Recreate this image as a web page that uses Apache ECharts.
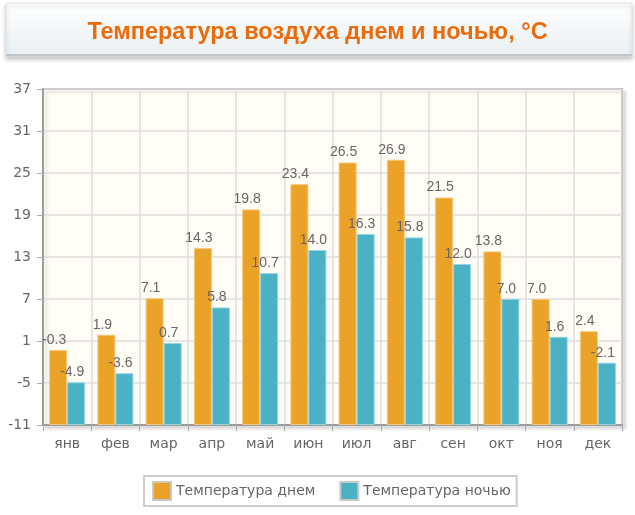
<!DOCTYPE html>
<html>
<head>
<meta charset="utf-8">
<script src="https://cdn.jsdelivr.net/npm/echarts@6/dist/echarts.min.js"></script>
<style>
html,body{margin:0;padding:0;background:#fff;}
#chart{width:635px;height:515px;}
</style>
</head>
<body>
<div id="chart"></div>
<script>
var months = ['янв','фев','мар','апр','май','июн','июл','авг','сен','окт','ноя','дек'];
var dayTemp = [-0.3, 1.9, 7.1, 14.3, 19.8, 23.4, 26.5, 26.9, 21.5, 13.8, 7.0, 2.4];
var nightTemp = [-4.9, -3.6, 0.7, 5.8, 10.7, 14.0, 16.3, 15.8, 12.0, 7.0, 1.6, -2.1];
var seriesNames = ['Температура днем', 'Температура ночью'];
var yMin = -11, yMax = 37, yStep = 6;
var titleText = 'Температура воздуха днем и ночью, °C';

// bars rise from the bottom of the axis (yMin), so plot heights above yMin
function fromBase(arr){ return arr.map(function(v){ return +(v - yMin).toFixed(2); }); }

var chart = echarts.init(document.getElementById('chart'), null, {renderer:'canvas'});
var labelFont = '"Liberation Sans", Arial, sans-serif';
var axisFont = '"DejaVu Sans", Verdana, sans-serif';

function barLabel(src){
  return {
    show: true, position: 'top', distance: 3, offset: [-4, 0],
    color: '#666', fontSize: 14, fontFamily: labelFont,
    formatter: function(p){ return src[p.dataIndex].toFixed(1); }
  };
}

chart.setOption({
  backgroundColor: '#fff',
  animation: false,
  graphic: [
    {type:'rect', z: -1, shape:{x:6, y:3, width:626, height:53},
     style:{fill:{type:'linear', x:0, y:0, x2:0, y2:1, colorStops:[{offset:0,color:'#ffffff'},{offset:1,color:'#e9eff3'}]},
            stroke:'#e2e2e2', lineWidth:1, shadowBlur:4, shadowOffsetY:3, shadowColor:'rgba(0,0,0,0.22)'}},
    {type:'rect', z: -1, shape:{x:6, y:54, width:626, height:2}, style:{fill:'#c3c6c8'}}
  ],
  title: {
    text: titleText, left: 'center', top: 16,
    textStyle: {color:'#eb6a0a', fontSize: 23.5, fontWeight:'bold', fontFamily: labelFont}
  },
  legend: {
    left: 144, top: 476, orient: 'horizontal',
    padding: [5, 6, 5, 8], itemGap: 24,
    borderColor: '#cccccc', borderWidth: 2,
    itemWidth: 18, itemHeight: 18, icon: 'rect',
    itemStyle: {borderColor:'#c8c8c8', borderWidth:2},
    textStyle: {color:'#666', fontSize: 14, fontFamily: axisFont},
    data: seriesNames
  },
  grid: {
    left: 43, right: 13, top: 89, bottom: 90,
    show: true, backgroundColor: '#fffdf6', borderColor: '#9d9d9d', borderWidth: 2,
    shadowColor: 'rgba(0,0,0,0.12)', shadowBlur: 3, shadowOffsetX: 3, shadowOffsetY: 3
  },
  xAxis: {
    type: 'category', data: months, boundaryGap: true,
    axisLine: {show:true, lineStyle:{color:'#9d9d9d', width:2}},
    axisTick: {show:true, length:6, alignWithLabel:false, lineStyle:{color:'#aaa', width:1}},
    axisLabel: {color:'#666', fontSize:14, margin:12, fontFamily: axisFont},
    splitLine: {show:true, lineStyle:{color:'#dcdcdc', width:1.5}}
  },
  yAxis: {
    type: 'value', min: 0, max: yMax - yMin, interval: yStep,
    axisLine: {show:true, lineStyle:{color:'#9d9d9d', width:2}},
    axisTick: {show:true, length:6, lineStyle:{color:'#aaa', width:1}},
    axisLabel: {color:'#666', fontSize:14, margin:12, fontFamily: axisFont,
                formatter: function(v){ return String(v + yMin); }},
    splitLine: {show:true, lineStyle:{color:'#dcdcdc', width:1.5}}
  },
  series: [
    {name: seriesNames[0], type:'bar', data: fromBase(dayTemp), barWidth: 18, barGap: '0%',
     itemStyle:{color:'#eaa228', borderColor:'#f6c878', borderWidth:1},
     label: barLabel(dayTemp)},
    {name: seriesNames[1], type:'bar', data: fromBase(nightTemp), barWidth: 18, barGap: '0%',
     itemStyle:{color:'#4bb2c5', borderColor:'#93d4df', borderWidth:1},
     label: barLabel(nightTemp)}
  ]
});
</script>
</body>
</html>
